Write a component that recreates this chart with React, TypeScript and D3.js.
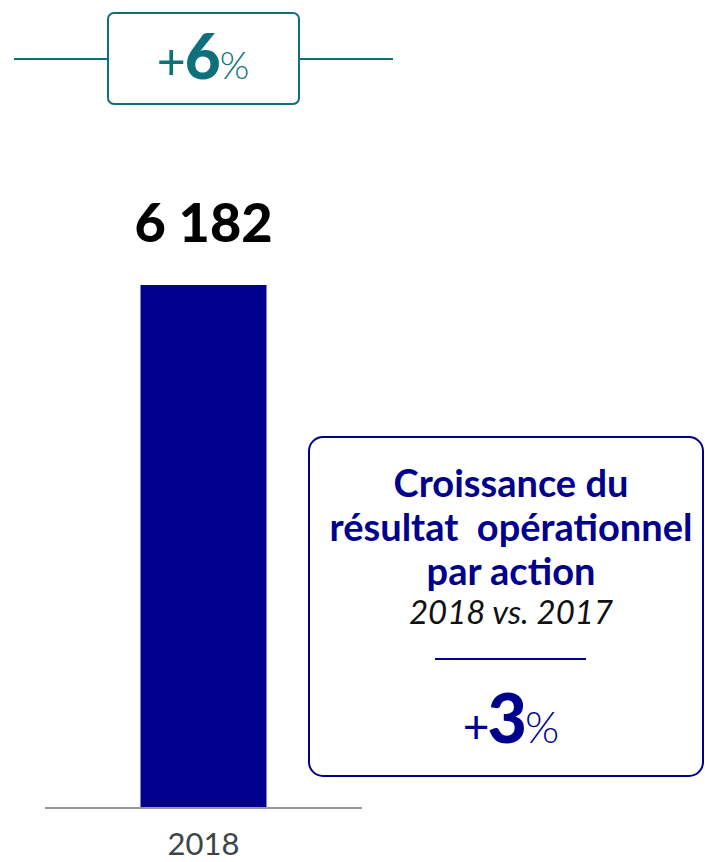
import React, { useEffect, useRef } from 'react';
import * as d3 from 'd3';

// données du graphique
const years = ['2018'];
const values = [6182];
const valueLabels = ['6 182'];
const growthTop = ['+', '6', '%'];
const growthBox = ['+', '3', '%'];
const boxTitle = ['Croissance du', 'résultat  opérationnel', 'par action'];
const boxSubtitle = '2018 vs. 2017';

const W = 705, H = 862;
const TEAL = '#0f707c';
const NAVY = '#00008c';
const FONT = 'Lato, "Open Sans", sans-serif';

export default function App() {
    const ref = useRef<SVGSVGElement>(null);

    useEffect(() => {
        const svg = d3.select(ref.current);
        svg.selectAll('*').remove();

        // échelles
        const xScale = d3.scaleBand()
            .domain(years)
            .range([45, 362])
            .paddingInner(0.5)
            .paddingOuter(0.379);

        const yScale = d3.scaleLinear()
            .domain([0, d3.max(values) as number])
            .range([807, 285]);

        // bloc du haut : +6%
        const top = svg.append('g');
        top.append('line')
            .attr('x1', 14).attr('x2', 108).attr('y1', 59).attr('y2', 59)
            .attr('stroke', TEAL).attr('stroke-width', 2);
        top.append('line')
            .attr('x1', 299).attr('x2', 393).attr('y1', 59).attr('y2', 59)
            .attr('stroke', TEAL).attr('stroke-width', 2);
        top.append('rect')
            .attr('x', 108).attr('y', 13).attr('width', 191).attr('height', 91)
            .attr('rx', 6)
            .attr('fill', '#fff').attr('stroke', TEAL).attr('stroke-width', 2);
        const t6 = top.append('text')
            .attr('x', 203).attr('y', 79)
            .attr('text-anchor', 'middle')
            .attr('fill', TEAL)
            .style('font-family', FONT);
        t6.append('tspan').attr('font-size', 50).attr('font-weight', 400).text(growthTop[0]);
        t6.append('tspan').attr('font-size', 62).attr('font-weight', 900).attr('dx', -1).text(growthTop[1]);
        t6.append('tspan').attr('font-size', 38).attr('font-weight', 300).attr('dx', -1).text(growthTop[2]);

        // barre
        const g = svg.append('g');
        g.selectAll('.bar')
            .data(values)
            .enter()
            .append('rect')
            .attr('class', 'bar')
            .attr('x', (d, i) => xScale(years[i]) as number)
            .attr('width', xScale.bandwidth())
            .attr('y', d => yScale(d))
            .attr('height', d => yScale(0) - yScale(d))
            .attr('fill', NAVY);

        g.selectAll('.val')
            .data(values)
            .enter()
            .append('text')
            .attr('class', 'val')
            .attr('x', (d, i) => (xScale(years[i]) as number) + xScale.bandwidth() / 2)
            .attr('y', d => yScale(d) - 43)
            .attr('text-anchor', 'middle')
            .attr('font-size', 54)
            .attr('font-weight', 900)
            .attr('fill', '#000')
            .style('font-family', FONT)
            .text((d, i) => valueLabels[i]);

        // axe
        g.append('line')
            .attr('x1', 45).attr('x2', 362)
            .attr('y1', yScale(0) + 1).attr('y2', yScale(0) + 1)
            .attr('stroke', '#999').attr('stroke-width', 2);

        g.selectAll('.year')
            .data(years)
            .enter()
            .append('text')
            .attr('class', 'year')
            .attr('x', d => (xScale(d) as number) + xScale.bandwidth() / 2)
            .attr('y', 855)
            .attr('text-anchor', 'middle')
            .attr('font-size', 31)
            .attr('font-weight', 400)
            .attr('fill', '#3d4447')
            .style('font-family', FONT)
            .text(d => d);

        // encadré de droite
        const box = svg.append('g');
        box.append('rect')
            .attr('x', 309).attr('y', 437).attr('width', 394).attr('height', 339)
            .attr('rx', 14)
            .attr('fill', '#fff').attr('stroke', NAVY).attr('stroke-width', 2);
        const cx = 511;
        box.selectAll('.title')
            .data(boxTitle)
            .enter()
            .append('text')
            .attr('class', 'title')
            .attr('x', cx)
            .attr('y', (d, i) => 497 + i * 44)
            .attr('text-anchor', 'middle')
            .attr('font-size', 38)
            .attr('font-weight', 700)
            .attr('fill', NAVY)
            .style('font-family', FONT)
            .style('white-space', 'pre')
            .text(d => d);
        box.append('text')
            .attr('x', cx).attr('y', 624)
            .attr('text-anchor', 'middle')
            .attr('font-size', 33)
            .attr('font-style', 'italic')
            .attr('font-weight', 400)
            .attr('fill', '#111')
            .style('font-family', FONT)
            .text(boxSubtitle);
        box.append('line')
            .attr('x1', 435).attr('x2', 586).attr('y1', 659).attr('y2', 659)
            .attr('stroke', NAVY).attr('stroke-width', 2);
        const t3 = box.append('text')
            .attr('x', cx).attr('y', 743)
            .attr('text-anchor', 'middle')
            .attr('fill', NAVY)
            .style('font-family', FONT);
        t3.append('tspan').attr('font-size', 46).attr('font-weight', 400).text(growthBox[0]);
        t3.append('tspan').attr('font-size', 68).attr('font-weight', 900).attr('dx', -2).text(growthBox[1]);
        t3.append('tspan').attr('font-size', 44).attr('font-weight', 300).attr('dx', -2).text(growthBox[2]);
    }, []);

    return (
        <svg ref={ref} width={W} height={H}
             style={{ position: 'absolute', left: 0, top: 0, display: 'block', background: '#fff' }} />
    );
}
